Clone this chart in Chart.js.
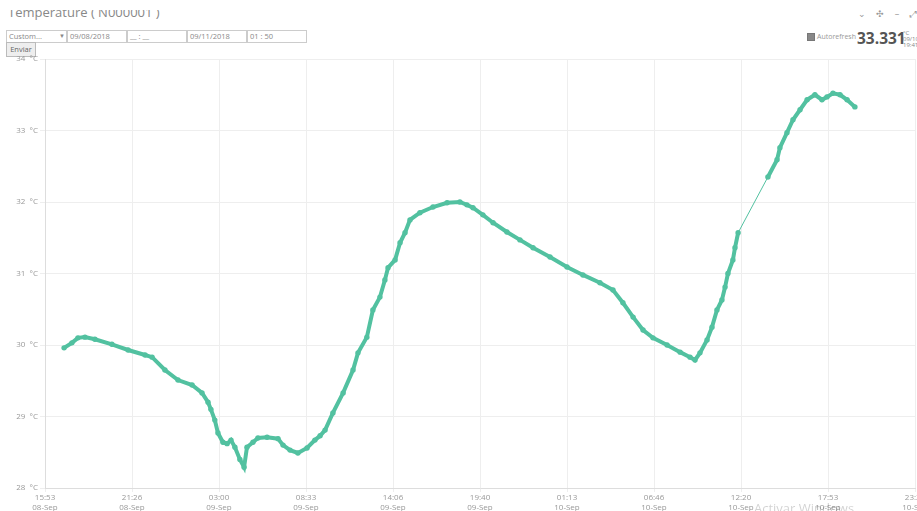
<!DOCTYPE html>
<html><head><meta charset="utf-8">
<script src="https://cdn.jsdelivr.net/npm/chart.js@4.4.0/dist/chart.umd.min.js"></script>
<style>
html,body{margin:0;padding:0;width:917px;height:511px;overflow:hidden;background:#fff;font-family:"Open Sans",sans-serif;}
#title{position:absolute;left:8px;top:4px;font-size:13px;color:#888;line-height:16px;}
#cover{position:absolute;left:0;top:0;width:917px;height:10px;background:#fff;}
.box{position:absolute;top:30px;height:11px;border:1px solid #ccc;font-size:7.5px;line-height:11px;color:#888;padding-left:2px;box-sizing:content-box;background:#fff;}
#btn{position:absolute;left:6px;top:42px;width:28px;height:13px;border:1px solid #bbb;background:#eee;font-size:7.5px;line-height:13px;color:#666;text-align:center;}
#auto{position:absolute;left:807px;top:32px;font-size:7px;color:#999;}
#auto .cb{display:inline-block;width:6px;height:6px;border:1px solid #777;background:#888;vertical-align:middle;margin-right:2px;}
#big{position:absolute;left:857px;top:27px;font-size:15.5px;font-weight:bold;color:#555;}
#unit{position:absolute;left:903px;top:30px;font-size:6px;color:#888;line-height:6px;}
#icons{position:absolute;left:858px;top:7px;font-size:9px;color:#999;word-spacing:8px;}
#wm{position:absolute;left:754px;top:499px;font-size:13px;color:rgba(0,0,0,0.18);white-space:nowrap;}
#wrap{position:absolute;left:0;top:49px;width:962px;height:479px;}
</style></head><body>
<div id="title">Temperature ( N000001 )</div>
<div id="cover"></div>
<div class="box" style="left:6px;width:57px;">Custom...<span style="position:absolute;left:52px;font-size:6px;">▼</span></div>
<div class="box" style="left:67px;width:56px;">09/08/2018</div>
<div class="box" style="left:127px;width:56px;">__ : __</div>
<div class="box" style="left:187px;width:56px;">09/11/2018</div>
<div class="box" style="left:247px;width:56px;">01 : 50</div>
<div id="btn">Enviar</div>
<div id="icons">⌄ ✣ – ⤢</div>
<div id="auto"><span class="cb"></span>Autorefresh</div>
<div id="big">33.331</div>
<div id="unit">°C<br>09/10<br>19:41</div>
<div id="wrap"><canvas id="c" width="962" height="479"></canvas></div>
<div id="wm">Activar Windows</div>
<script>
// minutes since 08-Sep 15:53
const minutes = [73,103,126,153,191,256,318,383,410,459,509,563,601,624,635,650,662,681,697,712,727,746,762,773,796,815,850,892,911,938,968,1003,1033,1053,1072,1102,1141,1179,1198,1232,1255,1282,1301,1313,1340,1359,1378,1397,1435,1485,1539,1588,1615,1638,1676,1715,1768,1818,1868,1933,1998,2059,2124,2174,2212,2251,2289,2327,2381,2431,2469,2488,2507,2534,2553,2572,2591,2603,2614,2633,2641,2653,2767,2802,2813,2840,2863,2890,2917,2947,2974,2993,3016,3043,3070,3100];
const temps = [29.96,30.03,30.10,30.11,30.08,30.01,29.93,29.86,29.83,29.65,29.51,29.44,29.33,29.20,29.10,28.95,28.77,28.64,28.62,28.67,28.57,28.40,28.29,28.57,28.64,28.70,28.71,28.69,28.60,28.53,28.49,28.56,28.67,28.73,28.81,29.05,29.33,29.65,29.89,30.11,30.49,30.67,30.91,31.08,31.19,31.43,31.57,31.75,31.85,31.93,31.99,32.00,31.96,31.92,31.82,31.71,31.58,31.47,31.36,31.23,31.09,30.98,30.87,30.77,30.59,30.39,30.21,30.10,30.00,29.90,29.83,29.79,29.89,30.07,30.25,30.49,30.63,30.81,31.00,31.19,31.36,31.57,32.35,32.59,32.76,32.97,33.15,33.29,33.43,33.50,33.43,33.47,33.52,33.50,33.43,33.33];
const tickTimes = ['15:53','21:26','03:00','08:33','14:06','19:40','01:13','06:46','12:20','17:53','23:26'];
const tickDates = ['08-Sep','08-Sep','09-Sep','09-Sep','09-Sep','09-Sep','10-Sep','10-Sep','10-Sep','10-Sep','10-Sep'];
const tickStep = 333;
const yTicks = [28,29,30,31,32,33,34];

const color = '#52c1a0';
const pts = minutes.map((m,i)=>({x:m,y:temps[i]}));
new Chart(document.getElementById('c'),{
  type:'line',
  data:{datasets:[{data:pts,borderColor:color,backgroundColor:color,borderWidth:4,
    pointRadius:2.7,pointBorderWidth:0,pointBackgroundColor:color,tension:0,fill:false,
    segment:{borderWidth:ctx=>(ctx.p1.parsed.x-ctx.p0.parsed.x>90?1:4)}}]},
  options:{responsive:false,animation:false,
    layout:{padding:{top:10,right:47,left:0,bottom:0}},
    plugins:{legend:{display:false},tooltip:{enabled:false}},
    scales:{
      x:{type:'linear',min:0,max:tickStep*(tickTimes.length-1),
        afterFit:s=>{s.height=40;},
        grid:{color:'#eeeeee',tickLength:4},
        border:{color:'#dddddd'},
        ticks:{stepSize:tickStep,autoSkip:false,maxRotation:0,padding:1,color:'#999',
          font:{family:'Open Sans',size:8},
          callback:v=>{const i=Math.round(v/tickStep);return [tickTimes[i],tickDates[i]];}}},
      y:{min:yTicks[0],max:yTicks[yTicks.length-1],
        afterFit:s=>{s.width=45;},
        grid:{color:'#eeeeee',tickLength:5},
        border:{color:'#dddddd'},
        ticks:{stepSize:1,padding:2,color:'#999',font:{family:'Open Sans',size:8},
          callback:v=>v+'  °C'}}
    }}
});
</script>
</body></html>
